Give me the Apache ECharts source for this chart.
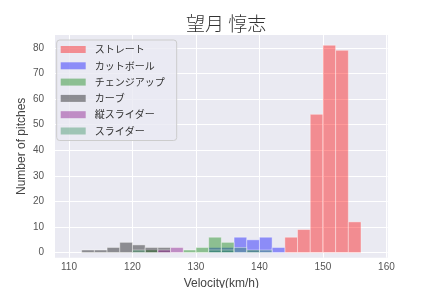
<!DOCTYPE html>
<html>
<head>
<meta charset="utf-8">
<script src="https://cdn.jsdelivr.net/npm/echarts@6/dist/echarts.min.js"></script>
<style>html,body{margin:0;padding:0;background:#fff}#c{width:432px;height:288px}</style>
</head>
<body>
<div id="c"></div>
<script>
// Histogram bin start values (bin width 2 km/h)
const binStarts = [112,114,116,118,120,122,124,126,128,130,132,134,136,138,140,142,144,146,148,150,152,154];
const binWidth = 2;
const seriesNames = ['ストレート','カットボール','チェンジアップ','カーブ','縦スライダー','スライダー'];
const straight = [0,0,0,0,0,0,0,0,0,0,0,0,0,0,0,0,6,9,54,81,79,12];
const cutBall  = [0,0,0,0,0,0,0,0,0,0,2,2,6,5,6,2,0,0,0,0,0,0];
const changeUp = [0,0,0,0,0,1,0,0,1,2,6,4,0,1,0,0,0,0,0,0,0,0];
const curve    = [1,1,2,4,3,2,2,0,0,0,0,0,0,0,0,0,0,0,0,0,0,0];
const vSlider  = [0,0,0,0,0,0,1,2,0,0,0,0,0,0,0,0,0,0,0,0,0,0];
const slider   = [0,0,0,0,1,0,0,0,0,0,1,1,2,0,1,0,0,0,0,0,0,0];
const xTicks = [110,120,130,140,150,160];
const yTicks = [0,10,20,30,40,50,60,70,80];

const colors = ['rgba(255,0,0,0.4)','rgba(0,0,255,0.4)','rgba(0,128,0,0.4)','rgba(0,0,0,0.4)','rgba(128,0,128,0.4)','rgba(46,139,87,0.4)'];
const allCounts = [straight, cutBall, changeUp, curve, vSlider, slider];

function toData(counts){
  const d = [];
  counts.forEach((c,i)=>{ if(c>0) d.push([binStarts[i], binStarts[i]+binWidth, c]); });
  return d;
}
function renderItem(params, api){
  const p0 = api.coord([api.value(0), api.value(2)]);
  const p1 = api.coord([api.value(1), 0]);
  return {
    type:'rect',
    shape:{x:p0[0], y:p0[1], width:p1[0]-p0[0], height:p1[1]-p0[1]},
    style:{fill: api.visual('color'), stroke:'rgba(255,255,255,0.4)', lineWidth:1}
  };
}
const latin = "'Liberation Sans Narrow','Liberation Sans','Noto Sans CJK JP',sans-serif";
const chart = echarts.init(document.getElementById('c'), null, {renderer:'canvas'});
chart.setOption({
  animation:false,
  backgroundColor:'#ffffff',
  title:{text:'望月 惇志', left:181, top:9,
    textStyle:{fontFamily:"'Noto Sans CJK JP',sans-serif", fontSize:19, fontWeight:300, color:'#333'}},
  grid:{left:55, right:44.3, top:35, bottom:30.3, show:true, backgroundColor:'#EAEAF2', borderWidth:0,
    containLabel:false, outerBoundsMode:'none'},
  legend:{
    orient:'vertical', left:56.7, top:40, icon:'rect', itemWidth:25, itemHeight:7, itemGap:5.3,
    padding:[4,12,4,4], backgroundColor:'rgba(234,234,242,0.8)', borderColor:'#cccccc', borderWidth:1, borderRadius:3,
    textStyle:{fontFamily:"'Noto Sans CJK JP',sans-serif", fontSize:10, color:'#333', lineHeight:11, padding:[0,0,0,4]},
    data:seriesNames
  },
  xAxis:{type:'value', min:107.8, max:160.2,
    name:'Velocity(km/h)', nameLocation:'middle', nameGap:20,
    nameTextStyle:{fontFamily:latin, fontSize:12, color:'#444'},
    axisLine:{show:false}, axisTick:{show:false, customValues:xTicks},
    axisLabel:{customValues:xTicks, margin:5, fontFamily:latin, fontSize:10, color:'#555'},
    splitLine:{show:true, lineStyle:{color:'#ffffff', width:1}}},
  yAxis:{type:'value', min:-2, max:85,
    name:'Number of pitches', nameLocation:'middle', nameGap:27, nameMoveOverlap:false,
    nameTextStyle:{fontFamily:latin, fontSize:12, color:'#444'},
    axisLine:{show:false}, axisTick:{show:false, customValues:yTicks},
    axisLabel:{customValues:yTicks, margin:11, fontFamily:latin, fontSize:10, color:'#555'},
    splitLine:{show:true, lineStyle:{color:'#ffffff', width:1}}},
  series: seriesNames.map((n,i)=>({
    name:n, type:'custom', renderItem:renderItem, itemStyle:{color:colors[i]},
    encode:{x:[0,1], y:2}, data:toData(allCounts[i])
  }))
});
</script>
</body>
</html>
